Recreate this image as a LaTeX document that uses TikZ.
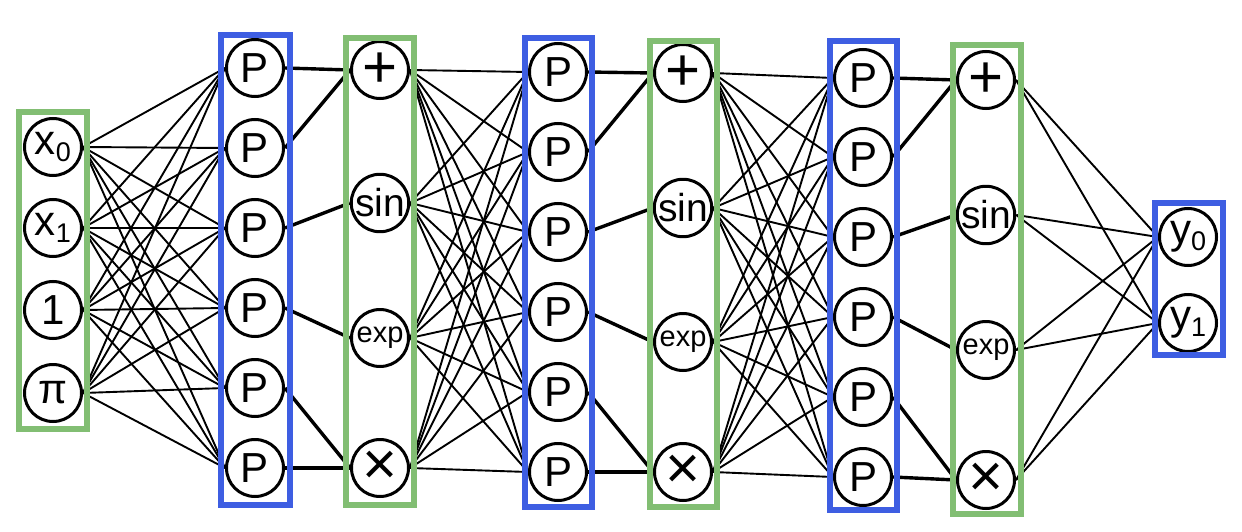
\documentclass[tikz,border=0pt]{standalone}
\usepackage{fontspec}
\setmainfont{Liberation Sans}
\usetikzlibrary{backgrounds}
\definecolor{pblue}{RGB}{62,94,226}
\definecolor{ogreen}{RGB}{130,190,115}
\newcommand\sbs[1]{\raisebox{-0.32ex}{\fontsize{27}{27}\selectfont #1}}
\begin{document}
\begin{tikzpicture}[x=1pt,y=-1pt,
  neuron/.style={circle, draw, line width=3pt, fill=white, minimum size=57pt, inner sep=0pt, font=\fontsize{42}{42}\selectfont},
  opfont/.style={font=\fontsize{60}{60}\selectfont},
  sinfont/.style={font=\fontsize{39}{39}\selectfont},
  expfont/.style={font=\fontsize{29}{29}\selectfont},
  conn/.style={line width=1.9pt},
  thickconn/.style={line width=3.4pt},
  pbox/.style={draw=pblue, line width=6pt},
  gbox/.style={draw=ogreen, line width=6pt}]
\useasboundingbox (0,0) rectangle (1242,532);
% input layer
\node[neuron] (i1) at (53,147) {x\sbs{0}};
\node[neuron] (i2) at (53,228) {x\sbs{1}};
\node[neuron] (i3) at (53,310) {1};
\node[neuron] (i4) at (53,393) {π};
% P layers
\foreach \y [count=\i] in {68,148,228,308,388,468} \node[neuron] (pa\i) at (255,\y) {P};
\foreach \y [count=\i] in {72,152,232,312,392,472} \node[neuron] (pb\i) at (558,\y) {P};
\foreach \y [count=\i] in {78,157,237,317,397,477} \node[neuron] (pc\i) at (863,\y) {P};
% operator layers
\node[neuron, opfont] (oa1) at (380,70) {+};
\node[neuron, sinfont] (oa2) at (380,203) {sin};
\node[neuron, expfont] (oa3) at (380,338) {exp};
\node[neuron, opfont] (oa4) at (380,468) {×};
\node[neuron, opfont] (ob1) at (683,73) {+};
\node[neuron, sinfont] (ob2) at (683,208) {sin};
\node[neuron, expfont] (ob3) at (683,342) {exp};
\node[neuron, opfont] (ob4) at (683,472) {×};
\node[neuron, opfont] (oc1) at (986,80) {+};
\node[neuron, sinfont] (oc2) at (986,215) {sin};
\node[neuron, expfont] (oc3) at (986,350) {exp};
\node[neuron, opfont] (oc4) at (986,480) {×};
% outputs
\node[neuron] (y1) at (1188,237) {y\sbs{0}};
\node[neuron] (y2) at (1188,323) {y\sbs{1}};
\begin{scope}[on background layer]
  \foreach \a in {1,...,4} \foreach \b in {1,...,6} {
    \draw[conn] (i\a.east) -- (pa\b.west);
    \draw[conn] (oa\a.east) -- (pb\b.west);
    \draw[conn] (ob\a.east) -- (pc\b.west);
  }
  \foreach \a in {1,...,4} \foreach \b in {1,2} \draw[conn] (oc\a.east) -- (y\b.west);
  \foreach \p in {a,b,c} {
    \draw[thickconn] (p\p1.east) -- (o\p1.west);
    \draw[thickconn] (p\p2.east) -- (o\p1.west);
    \draw[thickconn] (p\p3.east) -- (o\p2.west);
    \draw[thickconn] (p\p4.east) -- (o\p3.west);
    \draw[thickconn] (p\p5.east) -- (o\p4.west);
    \draw[thickconn] (p\p6.east) -- (o\p4.west);
  }
\end{scope}
% boxes
\draw[gbox] (19,112) rectangle (87,429);
\draw[pbox] (221,35) rectangle (290,505);
\draw[gbox] (346,38) rectangle (414,505);
\draw[pbox] (525,38) rectangle (592,507);
\draw[gbox] (650,41) rectangle (717,507);
\draw[pbox] (830,41) rectangle (897,510);
\draw[gbox] (953,45) rectangle (1021,514);
\draw[pbox] (1155,203) rectangle (1223,355);
\end{tikzpicture}
\end{document}
